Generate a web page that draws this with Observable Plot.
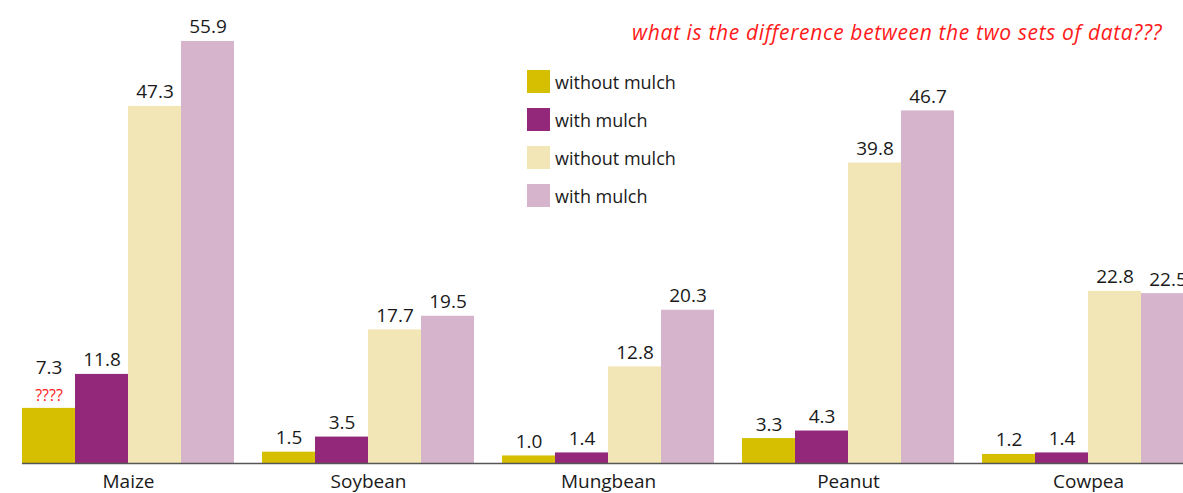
<!DOCTYPE html>
<html>
<head>
<meta charset="utf-8">
<script src="https://cdn.jsdelivr.net/npm/d3@7"></script>
<script src="https://cdn.jsdelivr.net/npm/@observablehq/plot@0.6"></script>
<style>
  html, body { margin: 0; padding: 0; background: #fff; overflow: hidden; width: 1183px; height: 493px; }
  #wrap { position: relative; width: 1183px; height: 493px; overflow: hidden; font-family: "Open Sans", sans-serif; }
  #title { position: absolute; left: 632px; top: 18px; color: #ff1a1a; font-style: italic; font-size: 21px; letter-spacing: 0.65px; white-space: nowrap; line-height: 28px; }
  #legend { position: absolute; left: 527px; top: 70px; }
  .item { display: flex; align-items: center; height: 23px; margin-bottom: 15px; font-size: 18px; color: #1a1a1a; }
  .sw { width: 23px; height: 23px; margin-right: 5px; flex: none; }
  #chart { position: absolute; left: 0; top: 0; }
  #chart svg { max-width: none !important; }
</style>
</head>
<body>
<div id="wrap">
  <div id="chart"></div>
  <div id="title"></div>
  <div id="legend"></div>
</div>
<script>
const crops = ["Maize", "Soybean", "Mungbean", "Peanut", "Cowpea"];
const seriesKeys = ["s1", "s2", "s3", "s4"];
const seriesNames = ["without mulch", "with mulch", "without mulch", "with mulch"];
const seriesColors = ["#d6be00", "#93287a", "#f3e6b6", "#d5b4cc"];
const s1 = [7.3, 1.5, 1.0, 3.3, 1.2];
const s2 = [11.8, 3.5, 1.4, 4.3, 1.4];
const s3 = [47.3, 17.7, 12.8, 39.8, 22.8];
const s4 = [55.9, 19.5, 20.3, 46.7, 22.5];
const notes = [{crop: "Maize", series: "s1", text: "????"}];
const titleText = "what is the difference between the two sets of data???";

const seriesValues = [s1, s2, s3, s4];
const data = [];
crops.forEach((c, i) => seriesKeys.forEach((k, j) => data.push({crop: c, series: k, value: seriesValues[j][i]})));
const hasNote = d => notes.some(n => n.crop === d.crop && n.series === d.series);
const noteData = notes.map(n => ({...n, value: data.find(d => d.crop === n.crop && d.series === n.series).value}));

const chart = Plot.plot({
  width: 1200,
  height: 493,
  marginLeft: 22,
  marginRight: 6,
  marginTop: 10,
  marginBottom: 30,
  style: {fontFamily: "Open Sans, sans-serif", color: "#222", background: "transparent", maxWidth: "none"},
  fx: {domain: crops, paddingInner: 28 / 240, paddingOuter: 0, round: false, label: null},
  x: {domain: seriesKeys, paddingInner: 0, paddingOuter: 0, round: false, axis: null},
  y: {domain: [0, 60], axis: null},
  color: {domain: seriesKeys, range: seriesColors},
  marks: [
    Plot.barY(data, {fx: "crop", x: "series", y: "value", fill: "series", inset: 0}),
    Plot.ruleY([0], {stroke: "#555", strokeWidth: 1.5, insetRight: -28}),
    Plot.text(data.filter(d => !hasNote(d)), {fx: "crop", x: "series", y: "value", text: d => d.value.toFixed(1), lineAnchor: "bottom", dy: -8, fontSize: 19, fill: "#1a1a1a"}),
    Plot.text(data.filter(hasNote), {fx: "crop", x: "series", y: "value", text: d => d.value.toFixed(1), lineAnchor: "bottom", dy: -34, fontSize: 19, fill: "#1a1a1a"}),
    Plot.text(noteData, {fx: "crop", x: "series", y: "value", text: "text", lineAnchor: "bottom", dy: -7, fontSize: 16, fill: "#ff1a1a"}),
    Plot.axisFx({anchor: "bottom", tickSize: 0, tickPadding: 11, fontSize: 19, fill: "#1a1a1a", label: null})
  ]
});
document.getElementById("chart").appendChild(chart);
document.getElementById("title").textContent = titleText;
const legend = document.getElementById("legend");
seriesNames.forEach((name, i) => {
  const item = document.createElement("div");
  item.className = "item";
  const sw = document.createElement("div");
  sw.className = "sw";
  sw.style.background = seriesColors[i];
  const t = document.createElement("span");
  t.textContent = name;
  item.appendChild(sw);
  item.appendChild(t);
  legend.appendChild(item);
});
</script>
</body>
</html>
